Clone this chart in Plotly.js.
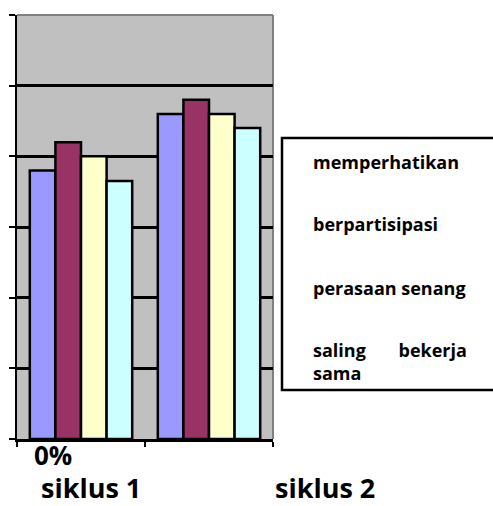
<!DOCTYPE html>
<html>
<head>
<meta charset="utf-8">
<script src="https://cdn.plot.ly/plotly-3.0.1.min.js"></script>
<style>html,body{margin:0;padding:0;background:#fff;}#chart{width:493px;height:506px;}</style>
</head>
<body>
<div id="chart"></div>
<script>
const categories = ['siklus 1', 'siklus 2'];
const seriesNames = ['memperhatikan', 'berpartisipasi', 'perasaan senang', 'saling bekerja sama'];
const memperhatikan = [76, 92];
const berpartisipasi = [84, 96];
const perasaanSenang = [80, 92];
const salingBekerjaSama = [73, 88];
const yTickValues = [0, 20, 40, 60, 80, 100, 120];
const yTickLabels = ['0%', '20%', '40%', '60%', '80%', '100%', '120%'];

const seriesValues = [memperhatikan, berpartisipasi, perasaanSenang, salingBekerjaSama];
const colors = ['#9999FF', '#993366', '#FFFFCC', '#CCFFFF'];
const FONT = '"Open Sans", "Noto Sans", sans-serif';

const traces = seriesNames.map((n, i) => ({
  type: 'bar', name: n, x: categories, y: seriesValues[i],
  marker: {color: colors[i], line: {color: '#000', width: 2.5}},
  hoverinfo: 'none'
}));

// plot area in px: x 17..273, y 15..439
const L = 17, R = 273, T = 15, B = 439;
const px = v => (v - L) / (R - L);
const py = v => (B - v) / (B - T);

function legendText(name) {
  const w = name.split(' ');
  if (w.length > 2) return w[0] + '\u00a0'.repeat(7) + w[1] + '<br>' + w.slice(2).join(' ');
  return name;
}
const legendY = [162, 224, 288, 361];

const annotations = [];
annotations.push({xref: 'paper', yref: 'paper', x: px(53), y: py(455), text: yTickLabels[0],
  showarrow: false, xanchor: 'center', yanchor: 'middle', font: {family: FONT, size: 26, weight: 700, color: '#000'}});
const catX = [91, 325];
categories.forEach((c, i) => annotations.push({xref: 'paper', yref: 'paper', x: px(catX[i]), y: py(488),
  text: c, showarrow: false, xanchor: 'center', yanchor: 'middle',
  font: {family: FONT, size: 27, weight: 700, color: '#000'}}));
seriesNames.forEach((n, i) => annotations.push({xref: 'paper', yref: 'paper', x: px(311), y: py(legendY[i]),
  text: legendText(n), showarrow: false, xanchor: 'left', yanchor: 'middle', align: 'left',
  font: {family: FONT, size: 18, weight: 700, color: '#000'}}));

const shapes = [
  {type: 'line', xref: 'paper', yref: 'paper', x0: 0, x1: 1, y0: 1, y1: 1, line: {color: '#808080', width: 2}, layer: 'above'},
  {type: 'line', xref: 'paper', yref: 'paper', x0: 1, x1: 1, y0: 0, y1: 1, line: {color: '#808080', width: 2}, layer: 'below'},
  {type: 'rect', xref: 'paper', yref: 'paper', x0: px(282), x1: px(520), y0: py(390), y1: py(138),
   line: {color: '#000', width: 2.5}, fillcolor: '#fff'}
];

const layout = {
  width: 493, height: 506,
  margin: {l: L, r: 493 - R, t: T, b: 506 - B},
  paper_bgcolor: '#fff', plot_bgcolor: '#C0C0C0',
  barmode: 'group', bargap: 0.2, bargroupgap: 0,
  showlegend: false,
  xaxis: {type: 'category', showticklabels: false, ticks: 'outside', tickson: 'boundaries', ticklen: 5,
    tickwidth: 2, tickcolor: '#000', showline: true, linecolor: '#000', linewidth: 2.5, showgrid: false},
  yaxis: {range: [0, 120], tickvals: yTickValues, ticktext: yTickLabels, showticklabels: false,
    ticks: 'outside', ticklen: 6, tickwidth: 2, tickcolor: '#000', showline: true, linecolor: '#000', linewidth: 2.5,
    showgrid: true, gridcolor: '#000', gridwidth: 3, zeroline: false},
  annotations: annotations, shapes: shapes
};

Plotly.newPlot('chart', traces, layout, {staticPlot: true, displayModeBar: false});
</script>
</body>
</html>
